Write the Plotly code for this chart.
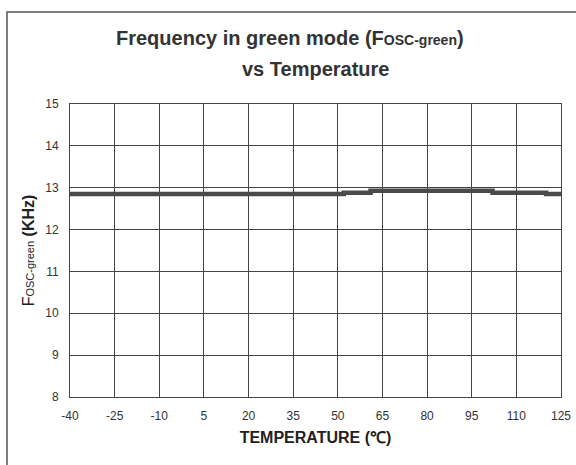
import plotly.graph_objects as go

temps = [-40, 52, 61, 102, 120, 125]
freq_khz = [12.85, 12.88, 12.93, 12.88, 12.85, 12.85]
x_ticks = [-40, -25, -10, 5, 20, 35, 50, 65, 80, 95, 110, 125]
y_ticks = [8, 9, 10, 11, 12, 13, 14, 15]
title_lines = ["<b>Frequency in green mode (F<span style='font-size:14px'>OSC-green</span>)</b>",
               "<b>vs Temperature</b>"]

fig = go.Figure()
fig.add_trace(go.Scatter(
    x=temps, y=freq_khz, mode="lines", line_shape="hv",
    line=dict(color="#4a4a4a", width=4.5), showlegend=False,
))

W, H = 576, 465
ml, mr, mt, mb = 70, 15, 104, 68
pw, ph = W - ml - mr, H - mt - mb

def px_x(px):
    return (px - ml) / pw

def px_y(py):
    return (H - mb - py) / ph

fig.update_layout(
    width=W, height=H,
    margin=dict(l=ml, r=mr, t=mt, b=mb, autoexpand=False),
    paper_bgcolor="white", plot_bgcolor="white",
    font=dict(family="Liberation Sans, Arial", color="#333333"),
    xaxis=dict(
        range=[-40, 125], tickvals=x_ticks, ticktext=[str(t) for t in x_ticks],
        showgrid=True, gridcolor="#444444", gridwidth=1,
        showline=True, linecolor="#444444", linewidth=1, mirror=True,
        ticks="", ticklabelstandoff=8, tickfont=dict(size=12, color="#333333"),
        title=dict(text="<b>TEMPERATURE (℃)</b>", font=dict(size=16, color="#222222"), standoff=9),
        zeroline=False, automargin=False,
    ),
    yaxis=dict(
        range=[8, 15], tickvals=y_ticks,
        showgrid=True, gridcolor="#444444", gridwidth=1,
        showline=True, linecolor="#444444", linewidth=1, mirror=True,
        ticks="", ticklabelstandoff=8, tickfont=dict(size=12, color="#333333"),
        title=dict(text="F<span style='font-size:11px'>OSC-green</span> <b>(KHz)</b>",
                   font=dict(size=16, color="#222222"), standoff=6),
        zeroline=False, automargin=False,
    ),
)

title_x = [290, 315]
title_y = [38, 69]
for i, line in enumerate(title_lines):
    fig.add_annotation(
        text=line, xref="paper", yref="paper", x=px_x(title_x[i]), y=px_y(title_y[i]),
        xanchor="center", yanchor="middle", showarrow=False,
        font=dict(family="Liberation Sans", size=20, color="#333333"),
    )

fig.add_shape(type="rect", xref="paper", yref="paper",
              x0=px_x(7), x1=px_x(600), y0=px_y(490), y1=px_y(12),
              line=dict(color="#555555", width=1.5), fillcolor="rgba(0,0,0,0)", layer="below")

fig.write_html("out.html", config={"displayModeBar": False},
               post_script="document.body.style.margin='0';")
